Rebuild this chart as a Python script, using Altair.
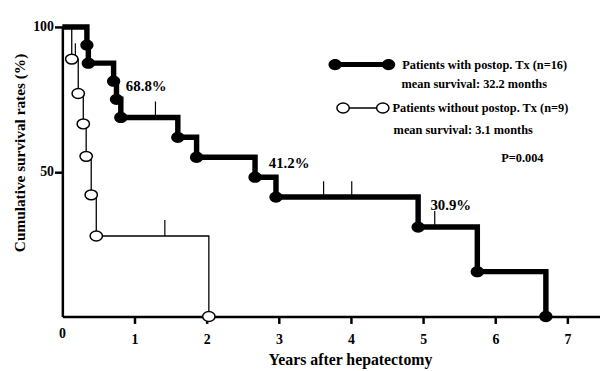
import altair as alt
import pandas as pd

# ---- data ----
# Patients with postoperative Tx (n=16): event times (years) and survival (%)
treated_times = [0.34, 0.36, 0.71, 0.75, 0.81, 1.60, 1.86, 2.67, 2.96, 4.93, 5.75, 6.70]
treated_surv = [93.75, 87.5, 81.25, 75.0, 68.75, 61.9, 55.0, 48.1, 41.25, 30.9, 15.5, 0.0]
treated_censor_times = [1.29, 3.62, 4.01, 5.16]
treated_censor_surv = [68.75, 41.25, 41.25, 30.9]

# Patients without postoperative Tx (n=9)
untreated_times = [0.13, 0.22, 0.29, 0.33, 0.40, 0.47, 2.03]
untreated_surv = [88.9, 77.0, 66.5, 55.3, 42.0, 27.8, 0.0]
untreated_censor_times = [0.18, 1.42]
untreated_censor_surv = [88.9, 27.8]

x_ticks = [1, 2, 3, 4, 5, 6, 7]
y_ticks = [50, 100]

pct_labels = ["68.8%", "41.2%", "30.9%"]
pct_label_t = [0.88, 2.86, 5.10]
pct_label_s = [79.5, 52.9, 38.6]

legend_texts = [
    "Patients with postop. Tx (n=16)",
    "mean survival: 32.2 months",
    "Patients without postop. Tx (n=9)",
    "mean survival: 3.1 months",
    "P=0.004",
]
legend_text_t = [4.71, 4.70, 4.575, 4.59, 6.08]
legend_text_s = [87.0, 80.2, 72.0, 64.5, 54.6]
legend_filled_t = [3.78, 4.52]
legend_filled_s = [87.0, 87.0]
legend_open_t = [3.89, 4.44]
legend_open_s = [72.0, 72.0]

FONT = "Liberation Serif"
CENSOR_H = 5.5


def step_frame(times, surv):
    return pd.DataFrame({"t": [0.0] + times, "s": [100.0] + surv})


def censor_frame(times, surv):
    return pd.DataFrame({"t": times, "s": surv, "s2": [v + CENSOR_H for v in surv]})


x_scale = alt.Scale(domain=[0, 7.45], nice=False, zero=False)
y_scale = alt.Scale(domain=[0, 100], nice=False)

x_axis = alt.Axis(
    values=x_ticks, format="d", title="Years after hepatectomy", grid=False,
    tickSize=7, labelPadding=9, titleX=291, titleY=44,
    titleAlign="center", titleBaseline="middle", titleFontSize=16,
)
y_axis = alt.Axis(
    values=y_ticks, format="d", title="Cumulative survival rates (%)", grid=False,
    tickSize=8, labelPadding=1, titleX=-43, titleY=127, titleAngle=270,
    titleAlign="center", titleBaseline="middle", titleFontSize=15.5,
)

X = alt.X("t:Q", scale=x_scale, axis=x_axis)
Y = alt.Y("s:Q", scale=y_scale, axis=y_axis)

ellipse_filled = "M-1,0A1,0.85,0,1,1,1,0A1,0.85,0,1,1,-1,0Z"
ellipse_open = "M-1,0A1,0.8,0,1,1,1,0A1,0.8,0,1,1,-1,0Z"

untreated_line = alt.Chart(step_frame(untreated_times, untreated_surv)).mark_line(
    interpolate="step-after", color="black", strokeWidth=1.3
).encode(x=X, y=Y)

untreated_cens = alt.Chart(censor_frame(untreated_censor_times, untreated_censor_surv)).mark_rule(
    color="black", strokeWidth=1.2
).encode(x=X, y=Y, y2="s2:Q")

untreated_pts = alt.Chart(pd.DataFrame({"t": untreated_times, "s": untreated_surv})).mark_point(
    shape=ellipse_open, size=156, filled=True, fill="white", stroke="black", strokeWidth=1.5, opacity=1
).encode(x=X, y=Y)

treated_line = alt.Chart(step_frame(treated_times, treated_surv)).mark_line(
    interpolate="step-after", color="black", strokeWidth=5.5, strokeJoin="miter"
).encode(x=X, y=Y)

treated_cens = alt.Chart(censor_frame(treated_censor_times, treated_censor_surv)).mark_rule(
    color="black", strokeWidth=1.2
).encode(x=X, y=Y, y2="s2:Q")

treated_pts = alt.Chart(pd.DataFrame({"t": treated_times, "s": treated_surv})).mark_point(
    shape=ellipse_filled, size=180, filled=True, color="black", opacity=1
).encode(x=X, y=Y)

pct = alt.Chart(pd.DataFrame({"t": pct_label_t, "s": pct_label_s, "label": pct_labels})).mark_text(
    align="left", baseline="middle", font=FONT, fontSize=15, fontWeight="bold", color="black"
).encode(x=X, y=Y, text="label:N")

zero_label = alt.Chart(pd.DataFrame({"t": [0.0], "s": [-6.0], "label": ["0"]})).mark_text(
    align="center", baseline="middle", font=FONT, fontSize=14, fontWeight="bold", color="black"
).encode(x=X, y=Y, text="label:N")

leg_filled_line = alt.Chart(pd.DataFrame({"t": legend_filled_t, "s": legend_filled_s})).mark_line(
    color="black", strokeWidth=5
).encode(x=X, y=Y)
leg_filled_pts = alt.Chart(pd.DataFrame({"t": legend_filled_t, "s": legend_filled_s})).mark_point(
    shape=ellipse_filled, size=180, filled=True, color="black", opacity=1
).encode(x=X, y=Y)
leg_open_line = alt.Chart(pd.DataFrame({"t": legend_open_t, "s": legend_open_s})).mark_line(
    color="black", strokeWidth=1.3
).encode(x=X, y=Y)
leg_open_pts = alt.Chart(pd.DataFrame({"t": legend_open_t, "s": legend_open_s})).mark_point(
    shape=ellipse_open, size=156, filled=True, fill="white", stroke="black", strokeWidth=1.5, opacity=1
).encode(x=X, y=Y)
leg_text = alt.Chart(pd.DataFrame({"t": legend_text_t, "s": legend_text_s, "label": legend_texts})).mark_text(
    align="left", baseline="middle", font=FONT, fontSize=12.5, fontWeight="bold", color="black"
).encode(x=X, y=Y, text="label:N")

chart = alt.layer(
    untreated_line, untreated_cens, treated_line, treated_cens, untreated_pts, treated_pts,
    pct, zero_label, leg_filled_line, leg_filled_pts, leg_open_line, leg_open_pts, leg_text,
).properties(
    width=544, height=293,
    autosize=alt.AutoSizeParams(type="none"),
    padding={"left": 55, "top": 17, "right": 0, "bottom": 55},
).configure_view(stroke=None).configure_axis(
    domainColor="black", domainWidth=2.5, tickColor="black", tickWidth=2.5,
    labelFont=FONT, labelFontSize=14, labelFontWeight="bold", labelColor="black",
    titleFont=FONT, titleFontSize=14, titleFontWeight="bold", titleColor="black",
)

chart.save("out.html", embed_options={"renderer": "svg", "actions": False})
